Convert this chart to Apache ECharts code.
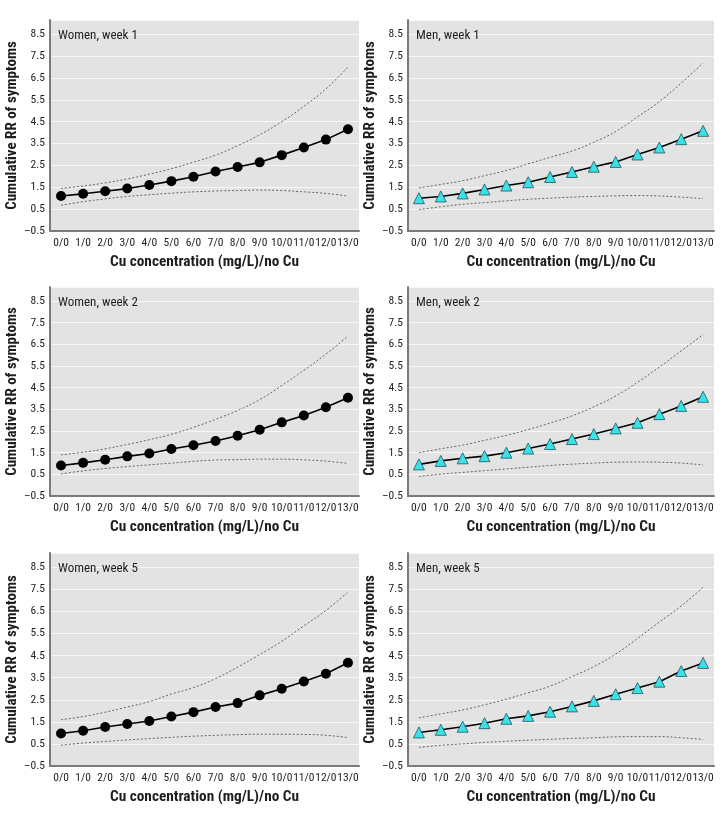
<!DOCTYPE html>
<html>
<head>
<meta charset="utf-8">
<script src="https://cdn.jsdelivr.net/npm/echarts@6/dist/echarts.min.js"></script>
<style>
html,body{margin:0;padding:0;background:#fff;}
#chart{width:726px;height:819px;}
</style>
</head>
<body>
<div id="chart"></div>
<script>
// ---- data ----
const categories = ['0/0','1/0','2/0','3/0','4/0','5/0','6/0','7/0','8/0','9/0','10/0','11/0','12/0','13/0'];

const panelTitles = ['Women, week 1','Men, week 1','Women, week 2','Men, week 2','Women, week 5','Men, week 5'];

const womenW1      = [1.1, 1.2, 1.32, 1.44, 1.6, 1.78, 1.98, 2.22, 2.43, 2.64, 2.97, 3.32, 3.68, 4.15];
const womenW1Upper = [1.45, 1.56, 1.7, 1.88, 2.1, 2.35, 2.65, 2.97, 3.4, 3.9, 4.5, 5.2, 6.0, 7.0];
const womenW1Lower = [0.68, 0.84, 0.97, 1.08, 1.16, 1.23, 1.29, 1.33, 1.35, 1.37, 1.35, 1.29, 1.22, 1.1];

const menW1      = [1.0, 1.08, 1.22, 1.4, 1.58, 1.73, 1.97, 2.2, 2.44, 2.66, 3.0, 3.32, 3.7, 4.08];
const menW1Upper = [1.47, 1.63, 1.8, 2.03, 2.27, 2.57, 2.87, 3.16, 3.56, 4.05, 4.72, 5.42, 6.27, 7.18];
const menW1Lower = [0.47, 0.61, 0.72, 0.8, 0.88, 0.95, 1.0, 1.05, 1.08, 1.11, 1.12, 1.1, 1.05, 0.98];

const womenW2      = [0.91, 1.03, 1.17, 1.33, 1.46, 1.67, 1.84, 2.04, 2.28, 2.56, 2.9, 3.22, 3.6, 4.04];
const womenW2Upper = [1.4, 1.52, 1.68, 1.88, 2.1, 2.35, 2.67, 3.04, 3.45, 3.95, 4.6, 5.3, 6.05, 6.88];
const womenW2Lower = [0.52, 0.66, 0.77, 0.86, 0.94, 1.02, 1.1, 1.16, 1.18, 1.2, 1.2, 1.17, 1.11, 1.0];

const menW2      = [0.96, 1.12, 1.24, 1.34, 1.5, 1.69, 1.9, 2.13, 2.36, 2.62, 2.88, 3.28, 3.66, 4.08];
const menW2Upper = [1.5, 1.68, 1.85, 2.07, 2.3, 2.57, 2.87, 3.2, 3.62, 4.12, 4.75, 5.45, 6.2, 6.95];
const menW2Lower = [0.4, 0.51, 0.59, 0.67, 0.75, 0.83, 0.91, 0.97, 1.02, 1.06, 1.07, 1.06, 1.02, 0.93];

const womenW5      = [0.97, 1.1, 1.27, 1.4, 1.54, 1.74, 1.94, 2.17, 2.35, 2.7, 3.0, 3.33, 3.68, 4.18];
const womenW5Upper = [1.6, 1.74, 1.94, 2.17, 2.42, 2.76, 3.05, 3.46, 3.98, 4.55, 5.15, 5.85, 6.55, 7.38];
const womenW5Lower = [0.44, 0.54, 0.61, 0.68, 0.74, 0.8, 0.85, 0.89, 0.92, 0.94, 0.94, 0.93, 0.89, 0.79];

const menW5      = [1.02, 1.14, 1.28, 1.44, 1.64, 1.77, 1.96, 2.2, 2.45, 2.75, 3.03, 3.32, 3.8, 4.17];
const menW5Upper = [1.68, 1.86, 2.04, 2.27, 2.53, 2.82, 3.12, 3.55, 4.0, 4.57, 5.28, 6.02, 6.75, 7.6];
const menW5Lower = [0.34, 0.44, 0.5, 0.57, 0.62, 0.67, 0.71, 0.75, 0.78, 0.82, 0.83, 0.83, 0.78, 0.7];

const mainSeries  = [womenW1, menW1, womenW2, menW2, womenW5, menW5];
const upperSeries = [womenW1Upper, menW1Upper, womenW2Upper, menW2Upper, womenW5Upper, menW5Upper];
const lowerSeries = [womenW1Lower, menW1Lower, womenW2Lower, menW2Lower, womenW5Lower, menW5Lower];

// ---- layout / style ----
const FONT = '"Roboto Condensed","Open Sans Condensed","Liberation Sans Narrow",sans-serif';
const TXT = '#1e1e1e';
const rows = [{top: 20, bottom: 231}, {top: 287, bottom: 496}, {top: 553, bottom: 766}];
const cols = [{left: 50, right: 359, nameGap: 24}, {left: 408, right: 714, nameGap: 27}];

const grids = [], xAxes = [], yAxes = [], series = [], titles = [];
for (let i = 0; i < 6; i++) {
  const r = rows[Math.floor(i / 2)], c = cols[i % 2];
  const isMen = i % 2 === 1;
  grids.push({
    left: c.left, width: c.right - c.left, top: r.top, height: r.bottom - r.top,
    show: true, backgroundColor: '#e3e3e3', borderWidth: 0
  });
  xAxes.push({
    gridIndex: i, type: 'category', data: categories, boundaryGap: true,
    axisLine: {show: true, onZero: false, lineStyle: {color: '#7a7a7a', width: 2}},
    axisTick: {show: false},
    axisLabel: {interval: 0, margin: 6, color: TXT, fontFamily: FONT, fontSize: 11.5},
    splitLine: {show: false},
    name: 'Cu concentration (mg/L)/no Cu', nameLocation: 'middle', nameGap: 24,
    nameTextStyle: {color: TXT, fontFamily: FONT, fontSize: 15.3, fontWeight: 'bold'}
  });
  yAxes.push({
    gridIndex: i, type: 'value', min: -0.5, max: 9.15, interval: 1,
    axisLine: {show: true, onZero: false, lineStyle: {color: '#7a7a7a', width: 2}},
    axisTick: {show: false},
    axisLabel: {
      showMaxLabel: false, margin: 5, color: TXT, fontFamily: FONT, fontSize: 11.5,
      formatter: v => (v < 0 ? '\u2013' + Math.abs(v).toFixed(1) : v.toFixed(1))
    },
    splitLine: {show: true, lineStyle: {color: '#f7f7f7', width: 1}},
    name: 'Cumulative RR of symptoms', nameLocation: 'middle', nameGap: c.nameGap,
    nameTextStyle: {color: TXT, fontFamily: FONT, fontSize: 15, fontWeight: 'bold'}
  });
  titles.push({
    text: panelTitles[i], left: c.left + 8, top: r.top + 9, padding: 0,
    textStyle: {color: TXT, fontFamily: FONT, fontSize: 13, fontWeight: 'normal'}
  });
  const dashStyle = {color: '#555', width: 0.9, type: [2, 2]};
  series.push({
    type: 'line', xAxisIndex: i, yAxisIndex: i, data: upperSeries[i], smooth: true,
    showSymbol: false, symbol: 'none', lineStyle: dashStyle, silent: true, z: 2
  });
  series.push({
    type: 'line', xAxisIndex: i, yAxisIndex: i, data: lowerSeries[i], smooth: true,
    showSymbol: false, symbol: 'none', lineStyle: dashStyle, silent: true, z: 2
  });
  series.push({
    type: 'line', xAxisIndex: i, yAxisIndex: i, data: mainSeries[i], smooth: false,
    symbol: isMen ? 'triangle' : 'circle', symbolSize: isMen ? 11 : 10,
    showSymbol: true,
    lineStyle: {color: '#000', width: 1.6},
    itemStyle: isMen ? {color: '#38e2e8', borderColor: '#27535c', borderWidth: 0.8}
                     : {color: '#000', borderColor: '#000', borderWidth: 0},
    z: 5
  });
}

const chart = echarts.init(document.getElementById('chart'), null, {renderer: 'canvas'});
chart.setOption({
  animation: false,
  backgroundColor: '#fff',
  title: titles,
  grid: grids,
  xAxis: xAxes,
  yAxis: yAxes,
  series: series
});
</script>
</body>
</html>
